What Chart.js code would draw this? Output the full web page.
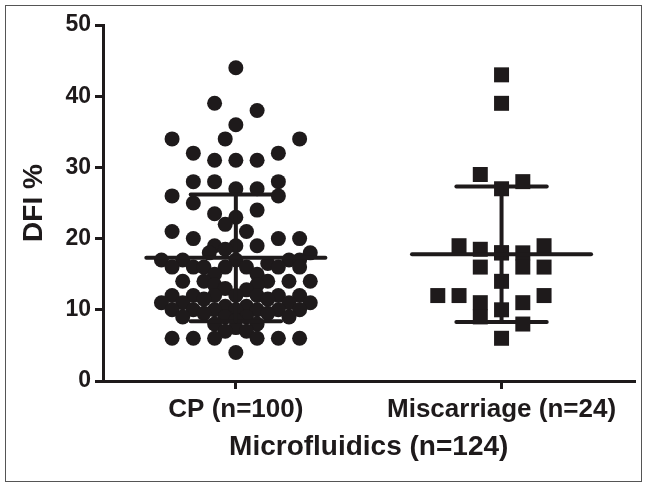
<!DOCTYPE html>
<html>
<head>
<meta charset="utf-8">
<script src="https://cdn.jsdelivr.net/npm/chart.js@4/dist/chart.umd.min.js"></script>
<style>
  html, body { margin: 0; padding: 0; background: #fff; }
  #wrap { width: 645px; height: 483px; }
</style>
</head>
<body>
<div id="wrap"><canvas id="chart" width="645" height="483"></canvas></div>
<script>
// groups on the x axis
const groups = ['CP (n=100)', 'Miscarriage (n=24)'];

// CP group: DFI % values and horizontal spread (x offset from group centre)
const cpValues = [
  44, 39, 38, 36, 34, 34, 34, 32, 32, 31, 31, 31,
  28, 28, 28, 27, 27, 26, 26, 25, 24, 23.5, 23, 22,
  21, 21, 20, 20, 20, 19, 19, 19, 18.5, 18, 18,
  17, 17, 17, 17, 17, 16.5, 16, 16, 16, 16, 16, 16, 16,
  15, 15, 14, 14, 14, 14, 14, 13.5, 13.5, 13, 12.8,
  12, 12, 12, 12, 12, 12, 12, 11.5, 11.5, 11, 11, 11, 11, 10.5, 10.5,
  10, 10, 10, 10, 10, 10, 10, 9.5, 9.5, 9, 9, 9, 9, 8.5, 8, 8, 7.5,
  7, 7, 6, 6, 6, 6, 6, 6, 4
];
const cpSpread = [
  0, -0.08, 0.08, 0, -0.24, -0.04, 0.24, -0.16, 0.16, -0.08, 0, 0.08,
  -0.16, -0.08, 0.16, 0, 0.08, -0.24, 0.16, -0.16, 0.08, -0.08, 0, -0.04,
  -0.24, 0.04, -0.16, 0.16, 0.24, -0.08, 0, 0.08, -0.04, -0.10, 0.28,
  -0.28, -0.20, 0, 0.20, 0.24, 0.12, -0.24, -0.16, -0.12, -0.04, 0.04, 0.16, 0.24,
  -0.08, 0.08, -0.20, -0.12, 0.12, 0.20, 0.28, -0.08, 0.08, -0.04, 0.04,
  -0.24, -0.16, -0.08, 0, 0.08, 0.16, 0.24, -0.12, 0.12, -0.28, -0.20, 0.20, 0.28, -0.04, 0.04,
  -0.24, -0.16, -0.08, 0, 0.08, 0.16, 0.24, -0.12, 0.12, -0.20, -0.04, 0.04, 0.20, 0, -0.08, 0.08, 0,
  -0.04, 0.04, -0.24, -0.16, -0.08, 0.08, 0.16, 0.24, 0
];

// Miscarriage group
const miscValues = [
  43, 39, 29, 28, 27, 19, 18.5, 16, 18, 18, 18, 16,
  19, 16, 14, 12, 12, 11, 9, 10, 11, 12, 8, 6
];
const miscSpread = [
  0, 0, -0.08, 0.08, 0, -0.16, -0.08, -0.08, 0, 0, 0.08, 0.08,
  0.16, 0.16, 0, -0.24, -0.16, -0.08, -0.08, 0, 0.08, 0.16, 0.08, 0
];

// mean and SD per group
const means = [17.3, 17.8];
const sds = [8.9, 9.5];

const ink = '#1e1a1b';
const font = 'Liberation Sans, Arial, Helvetica, sans-serif';

function pts(base, values, spread) {
  return values.map((v, i) => ({ x: base + spread[i], y: v }));
}

const datasets = [];
// mean line + SD whiskers, drawn on top of the dots
means.forEach((m, i) => {
  const c = i + 1;
  const segs = [
    [[c - 0.337, m], [c + 0.337, m]],
    [[c, m - sds[i]], [c, m + sds[i]]],
    [[c - 0.17, m + sds[i]], [c + 0.17, m + sds[i]]],
    [[c - 0.17, m - sds[i]], [c + 0.17, m - sds[i]]]
  ];
  segs.forEach(s => datasets.push({
    type: 'line',
    data: s.map(p => ({ x: p[0], y: p[1] })),
    borderColor: ink,
    borderWidth: 4,
    borderCapStyle: 'round',
    pointRadius: 0,
    order: 0,
    clip: false
  }));
});
datasets.push({
  label: groups[0],
  data: pts(1, cpValues, cpSpread),
  backgroundColor: ink,
  borderWidth: 0,
  pointRadius: 7.5,
  pointStyle: 'circle',
  order: 1,
  clip: false
});
datasets.push({
  label: groups[1],
  data: pts(2, miscValues, miscSpread),
  backgroundColor: ink,
  borderWidth: 0,
  pointRadius: 10.6,
  pointStyle: 'rect',
  order: 1,
  clip: false
});

const frame = {
  id: 'frame',
  afterDraw(chart) {
    const ctx = chart.ctx;
    ctx.save();
    ctx.strokeStyle = '#555';
    ctx.lineWidth = 1;
    ctx.strokeRect(5.5, 5.5, 636, 476);
    ctx.restore();
  }
};

new Chart(document.getElementById('chart'), {
  type: 'scatter',
  data: { datasets },
  plugins: [frame],
  options: {
    responsive: false,
    animation: false,
    layout: { padding: { left: 17, right: 8, top: 25, bottom: 19 } },
    plugins: { legend: { display: false }, tooltip: { enabled: false } },
    scales: {
      x: {
        type: 'linear',
        min: 0.5,
        max: 2.5,
        afterBuildTicks: axis => { axis.ticks = [{ value: 1 }, { value: 2 }]; },
        afterFit: axis => { axis.height = 483 - 381 - 19; },
        ticks: {
          callback: v => groups[v - 1],
          color: ink,
          padding: 5,
          maxRotation: 0,
          font: { family: font, size: 26, weight: 'bold' }
        },
        grid: { drawOnChartArea: false, tickLength: 8, lineWidth: 3, color: ink },
        border: { display: true, width: 3, color: ink },
        title: {
          display: true,
          text: 'Microfluidics (n=124)',
          color: ink,
          padding: 0,
          font: { family: font, size: 28, weight: 'bold' }
        }
      },
      y: {
        min: 0,
        max: 50,
        afterFit: axis => { axis.width = 103 - 17; },
        ticks: {
          stepSize: 10,
          color: ink,
          padding: 4,
          font: { family: font, size: 23, weight: 'bold' }
        },
        grid: { drawOnChartArea: false, tickLength: 8, lineWidth: 3, color: ink },
        border: { display: true, width: 3, color: ink },
        title: {
          display: true,
          text: 'DFI %',
          color: ink,
          padding: 0,
          font: { family: font, size: 28, weight: 'bold' }
        }
      }
    }
  }
});
</script>
</body>
</html>
